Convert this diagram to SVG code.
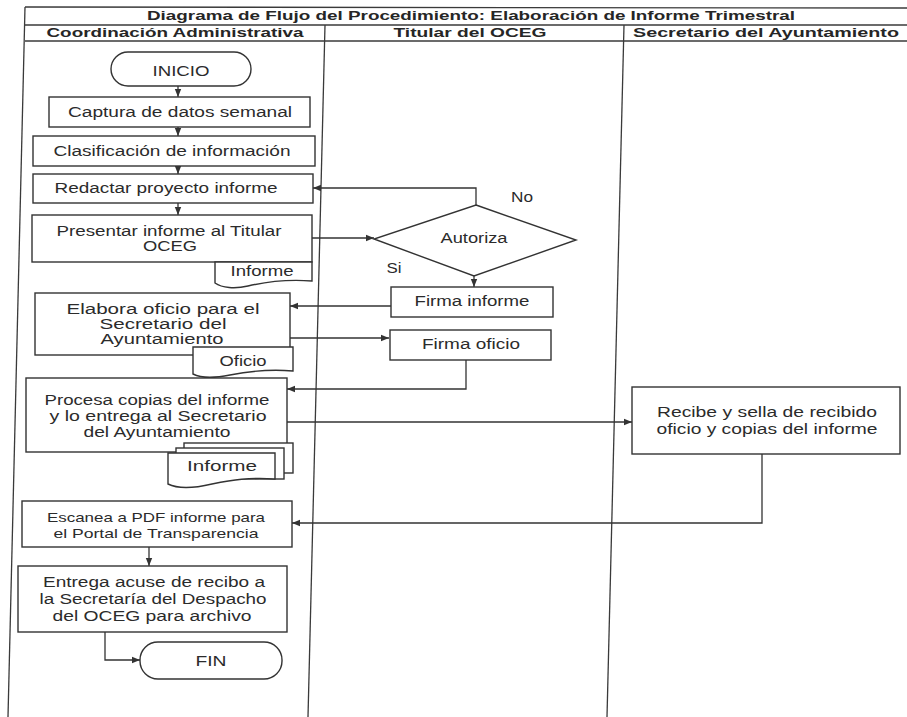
<svg xmlns="http://www.w3.org/2000/svg" width="907" height="717" viewBox="0 0 907 717">
<defs>
<style>
.frame{stroke:#3a3a3a;stroke-width:1.3;fill:none}
.box{fill:#fff;stroke:#333;stroke-width:1.4}
.conn{fill:none;stroke:#333;stroke-width:1.3}
.t{font-family:"Liberation Sans",Arial,sans-serif;font-size:14px;fill:#2b2b2b;text-anchor:middle}
.s{font-size:13px}
.h{font-family:"Liberation Sans",Arial,sans-serif;font-size:13px;font-weight:bold;fill:#262626;text-anchor:middle}
</style>
<marker id="ah" viewBox="0 0 10 10" refX="10" refY="5" markerWidth="8" markerHeight="8" markerUnits="userSpaceOnUse" orient="auto">
<path d="M0,1 L10,5 L0,9 z" fill="#333"/>
</marker>
</defs>
<rect width="907" height="717" fill="#fff"/>

<g id="frame">
<line class="frame" x1="25" y1="7" x2="907" y2="8"/>
<line class="frame" x1="25" y1="25" x2="907" y2="25"/>
<line class="frame" x1="25" y1="41" x2="907" y2="41"/>
<line class="frame" x1="25" y1="7" x2="8" y2="717"/>
<line class="frame" x1="325" y1="25" x2="308" y2="717"/>
<line class="frame" x1="624" y1="25" x2="607" y2="717"/>
<text class="h" x="471" y="20" textLength="648" lengthAdjust="spacingAndGlyphs">Diagrama de Flujo del Procedimiento: Elaboración de Informe Trimestral</text>
<text class="h" x="175" y="37" textLength="257" lengthAdjust="spacingAndGlyphs">Coordinación Administrativa</text>
<text class="h" x="470" y="37" textLength="153" lengthAdjust="spacingAndGlyphs">Titular del OCEG</text>
<text class="h" x="766" y="37" textLength="266" lengthAdjust="spacingAndGlyphs">Secretario del Ayuntamiento</text>
</g>

<g id="connectors">
<line class="conn" x1="178" y1="86" x2="178" y2="97" marker-end="url(#ah)"/>
<line class="conn" x1="178" y1="127" x2="178" y2="136" marker-end="url(#ah)"/>
<line class="conn" x1="178" y1="166" x2="178" y2="174" marker-end="url(#ah)"/>
<line class="conn" x1="178" y1="203" x2="178" y2="215" marker-end="url(#ah)"/>
<line class="conn" x1="312" y1="238" x2="374" y2="238" marker-end="url(#ah)"/>
<polyline class="conn" points="476,205 476,188 313,188" marker-end="url(#ah)"/>
<line class="conn" x1="474" y1="276" x2="474" y2="287" marker-end="url(#ah)"/>
<line class="conn" x1="391" y1="306" x2="290" y2="306" marker-end="url(#ah)"/>
<line class="conn" x1="290" y1="338" x2="389" y2="338" marker-end="url(#ah)"/>
<polyline class="conn" points="466,360 466,389 287,389" marker-end="url(#ah)"/>
<line class="conn" x1="287" y1="422" x2="632" y2="422" marker-end="url(#ah)"/>
<polyline class="conn" points="762,454 762,523 292,523" marker-end="url(#ah)"/>
<line class="conn" x1="149" y1="547" x2="149" y2="566" marker-end="url(#ah)"/>
<polyline class="conn" points="105,632 105,660 140,660" marker-end="url(#ah)"/>
</g>

<g id="inicio">
<rect class="box" x="111" y="52" width="140" height="34" rx="17"/>
<text class="t" x="181" y="76" textLength="57" lengthAdjust="spacingAndGlyphs">INICIO</text>
</g>
<g id="captura">
<rect class="box" x="49" y="97" width="261" height="30"/>
<text class="t" x="180" y="117" textLength="224" lengthAdjust="spacingAndGlyphs">Captura de datos semanal</text>
</g>
<g id="clasificacion">
<rect class="box" x="33" y="136" width="282" height="30"/>
<text class="t" x="172" y="156" textLength="237" lengthAdjust="spacingAndGlyphs">Clasificación de información</text>
</g>
<g id="redactar">
<rect class="box" x="33" y="174" width="280" height="29"/>
<text class="t" x="166" y="193" textLength="223" lengthAdjust="spacingAndGlyphs">Redactar proyecto informe</text>
</g>
<g id="presentar">
<rect class="box" x="32" y="215" width="280" height="47"/>
<text class="t" x="169" y="236" textLength="225" lengthAdjust="spacingAndGlyphs">Presentar informe al Titular</text>
<text class="t" x="170" y="251" textLength="54" lengthAdjust="spacingAndGlyphs">OCEG</text>
</g>
<g id="doc-informe-1">
<path class="box" d="M215,262 H312 V281 C285,279 265,282 248,286 C235,289 222,288 215,283 Z"/>
<text class="t" x="262" y="276" textLength="63" lengthAdjust="spacingAndGlyphs">Informe</text>
</g>
<g id="elabora">
<rect class="box" x="35" y="293" width="255" height="62"/>
<text class="t" x="163" y="314" textLength="193" lengthAdjust="spacingAndGlyphs">Elabora oficio para el</text>
<text class="t" x="163" y="329" textLength="127" lengthAdjust="spacingAndGlyphs">Secretario del</text>
<text class="t" x="162" y="344" textLength="123" lengthAdjust="spacingAndGlyphs">Ayuntamiento</text>
</g>
<g id="doc-oficio">
<path class="box" d="M193,347 H293 V371 C270,369 250,371 230,375 C215,378 201,378 193,374 Z"/>
<text class="t" x="243" y="366" textLength="47" lengthAdjust="spacingAndGlyphs">Oficio</text>
</g>
<g id="procesa">
<rect class="box" x="26" y="378" width="261" height="74"/>
<text class="t" x="157" y="405" textLength="225" lengthAdjust="spacingAndGlyphs">Procesa copias del informe</text>
<text class="t" x="158" y="421" textLength="217" lengthAdjust="spacingAndGlyphs">y lo entrega al Secretario</text>
<text class="t" x="157" y="437" textLength="147" lengthAdjust="spacingAndGlyphs">del Ayuntamiento</text>
</g>
<g id="doc-informe-copias">
<rect class="box" x="184" y="443" width="109" height="30"/>
<rect class="box" x="176" y="448" width="108" height="31"/>
<path class="box" d="M168,453 H275 V479 C250,477 232,480 212,484 C195,488 178,489 168,484 Z"/>
<text class="t" x="222" y="471" textLength="70" lengthAdjust="spacingAndGlyphs">Informe</text>
</g>
<g id="escanea">
<rect class="box" x="22" y="501" width="270" height="46"/>
<text class="t s" x="156" y="522" textLength="218" lengthAdjust="spacingAndGlyphs">Escanea a PDF informe para</text>
<text class="t s" x="156" y="538" textLength="205" lengthAdjust="spacingAndGlyphs">el Portal de Transparencia</text>
</g>
<g id="entrega">
<rect class="box" x="18" y="566" width="269" height="66"/>
<text class="t" x="154" y="587" textLength="222" lengthAdjust="spacingAndGlyphs">Entrega acuse de recibo a</text>
<text class="t" x="153" y="604" textLength="227" lengthAdjust="spacingAndGlyphs">la Secretaría del Despacho</text>
<text class="t" x="152" y="621" textLength="199" lengthAdjust="spacingAndGlyphs">del OCEG para archivo</text>
</g>
<g id="fin">
<rect class="box" x="140" y="642" width="142" height="37" rx="18"/>
<text class="t" x="211" y="666" textLength="31" lengthAdjust="spacingAndGlyphs">FIN</text>
</g>
<g id="autoriza">
<polygon class="box" points="476,205 576,240 474,276 374,239"/>
<text class="t" x="474" y="243" textLength="67" lengthAdjust="spacingAndGlyphs">Autoriza</text>
<text class="t" x="522" y="202" textLength="22" lengthAdjust="spacingAndGlyphs">No</text>
<text class="t" x="394" y="273" textLength="15" lengthAdjust="spacingAndGlyphs">Si</text>
</g>
<g id="firma-informe">
<rect class="box" x="391" y="287" width="162" height="30"/>
<text class="t" x="472" y="306" textLength="115" lengthAdjust="spacingAndGlyphs">Firma informe</text>
</g>
<g id="firma-oficio">
<rect class="box" x="390" y="330" width="161" height="30"/>
<text class="t" x="471" y="349" textLength="98" lengthAdjust="spacingAndGlyphs">Firma oficio</text>
</g>
<g id="recibe">
<rect class="box" x="632" y="387" width="268" height="67"/>
<text class="t" x="767" y="417" textLength="220" lengthAdjust="spacingAndGlyphs">Recibe y sella de recibido</text>
<text class="t" x="767" y="434" textLength="221" lengthAdjust="spacingAndGlyphs">oficio y copias del informe</text>
</g>
</svg>
